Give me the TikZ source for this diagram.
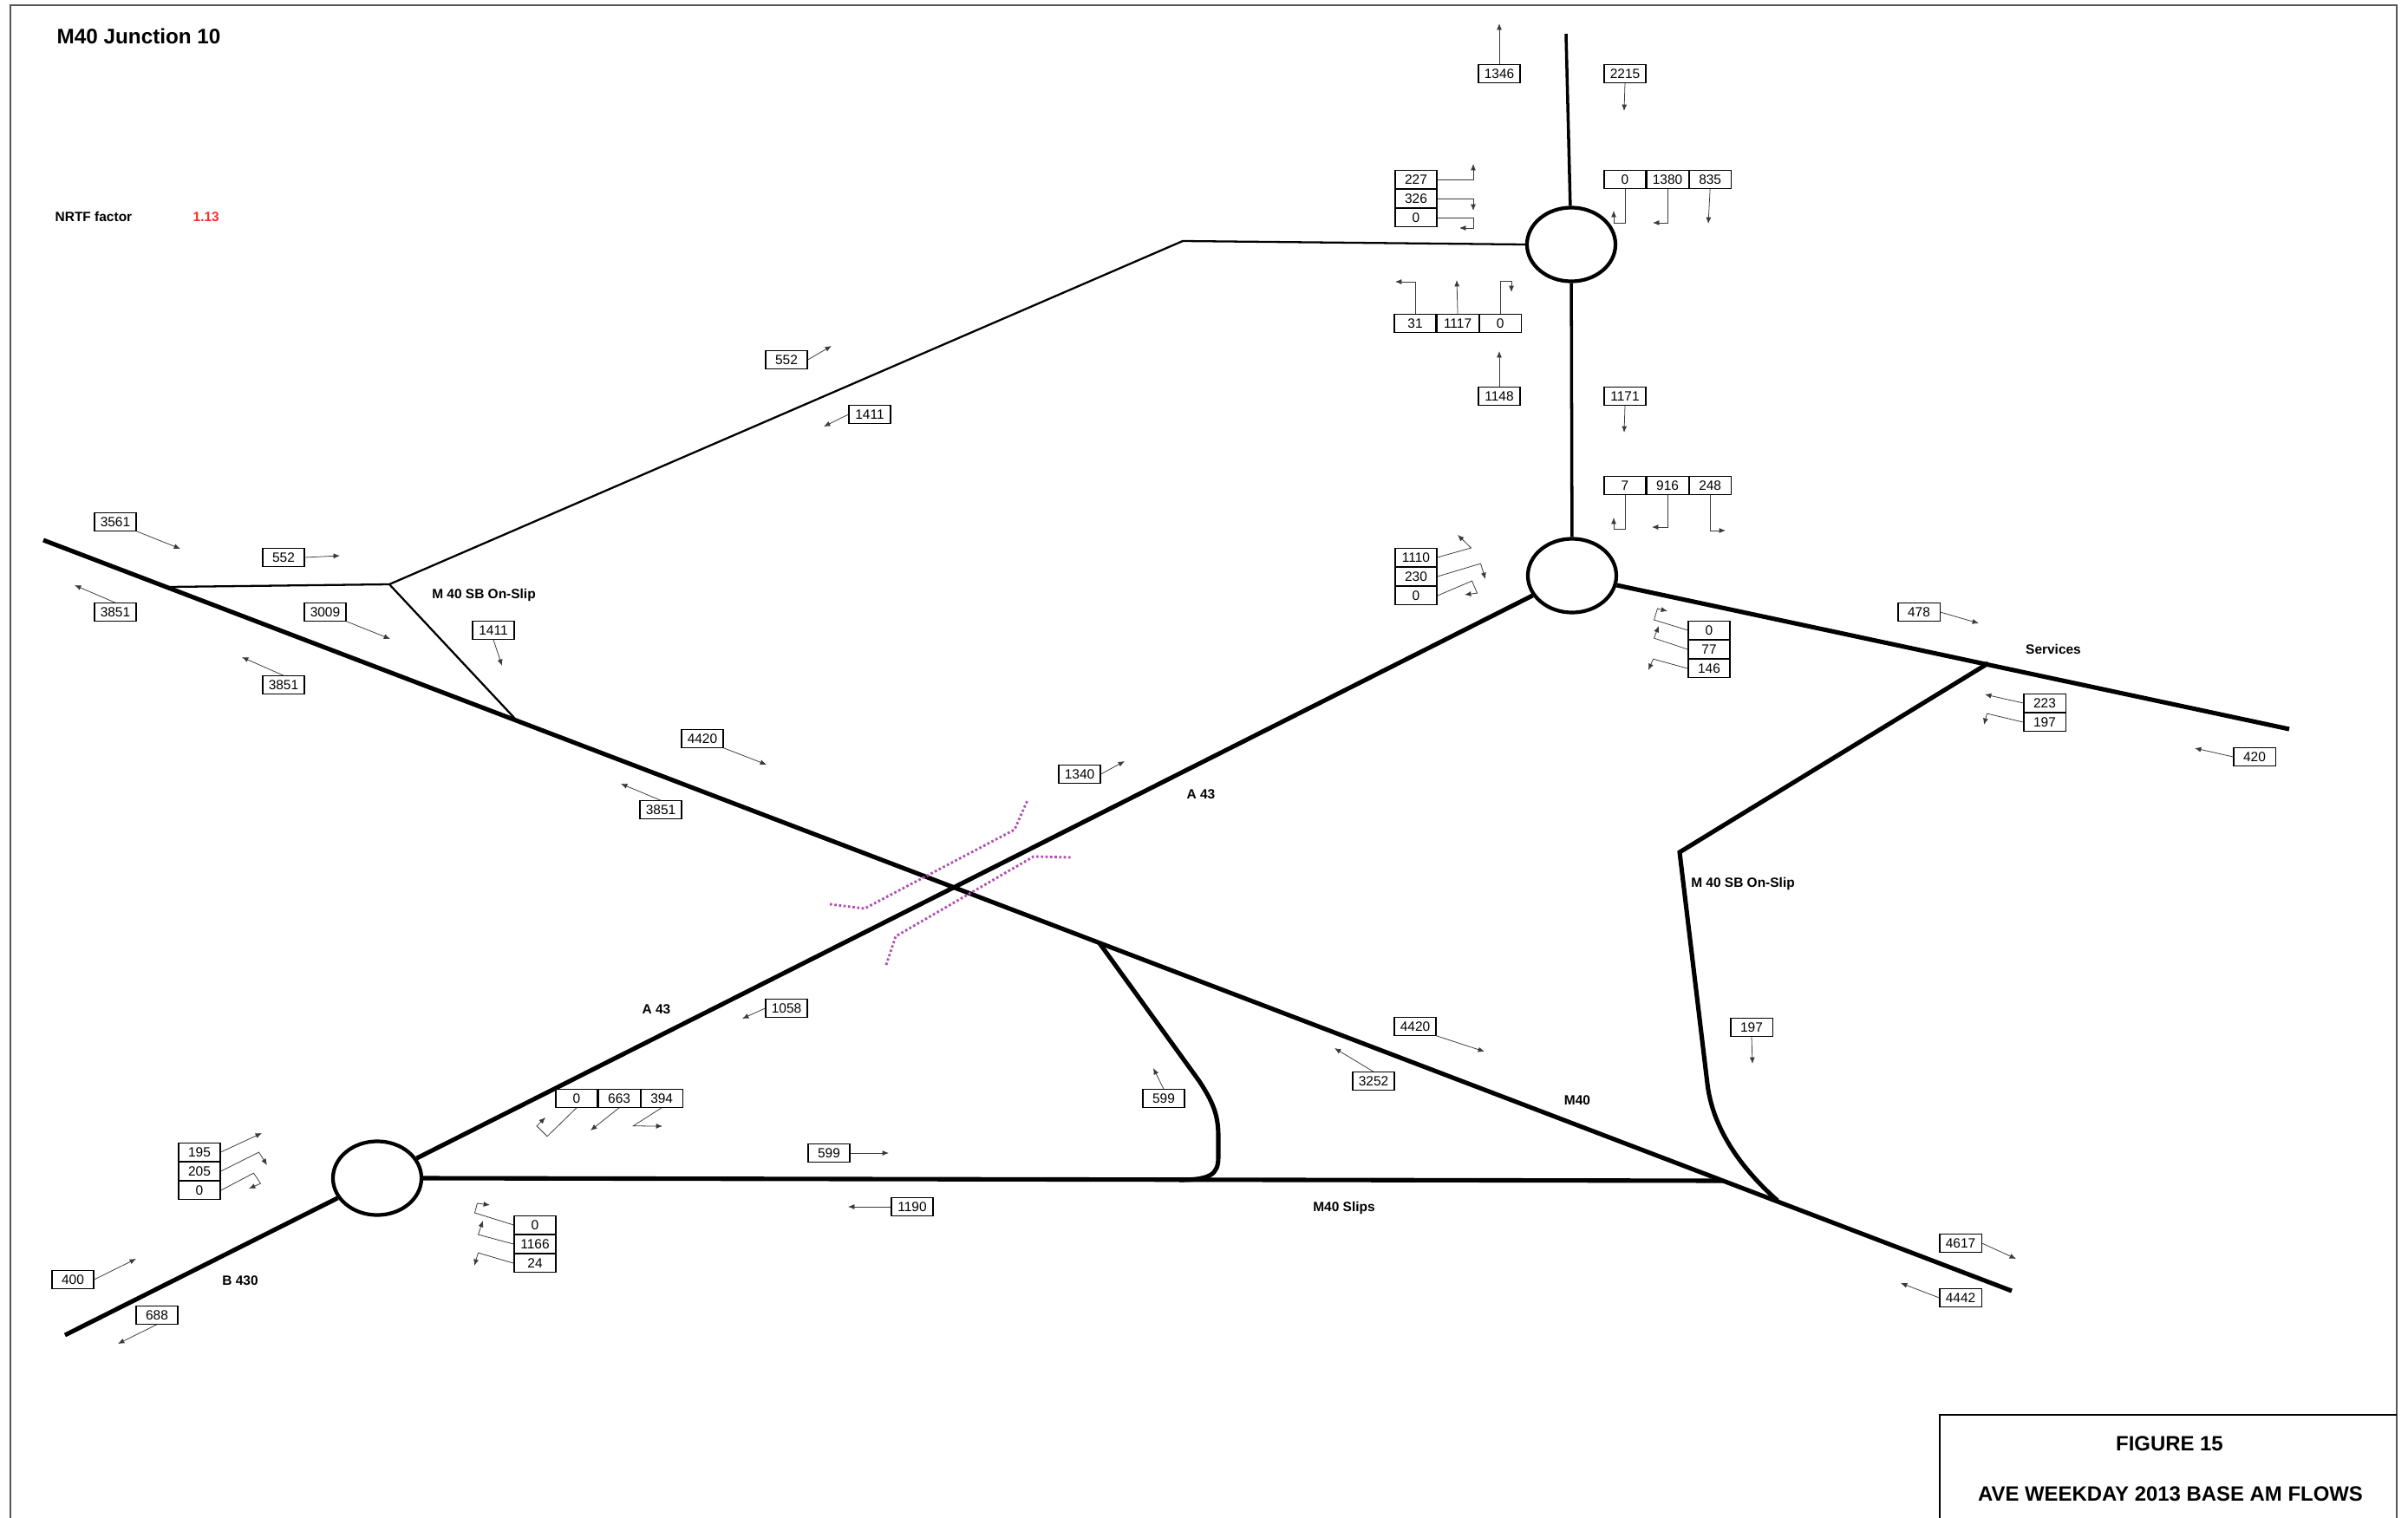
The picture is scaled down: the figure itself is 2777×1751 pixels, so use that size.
\documentclass[tikz,border=0pt]{standalone}
\usepackage{fontspec}
\setmainfont{Liberation Sans}
\usepackage{xcolor}
\usepackage{tikz}
\usetikzlibrary{arrows.meta, positioning, shapes.geometric}
\definecolor{jctcolor0}{HTML}{000000}
\definecolor{jctcolor1}{HTML}{555555}
\definecolor{jctcolor2}{HTML}{3A3A3A}
\definecolor{jctcolor3}{HTML}{B24DB2}
\definecolor{jctcolor4}{HTML}{FF2A2A}
\tikzset{
  frame_line/.style={draw=jctcolor1, line width=0.5pt},
  title_box_line/.style={draw=jctcolor0, line width=0.4pt},
  road_major/.style={draw=jctcolor0, line width=1.45pt},
  road_minor/.style={draw=jctcolor0, line width=1.0pt},
  road_thin/.style={draw=jctcolor0, line width=0.65pt},
  roundabout_node/.style={ellipse, draw=jctcolor0, line width=1.2pt, minimum width=1.02cm, minimum height=0.85cm, inner sep=0pt},
  rail_line/.style={draw=jctcolor3, line width=0.8pt, dash pattern=on 0.75pt off 0.75pt},
  flow_box/.style={draw=jctcolor0, line width=0.3pt, minimum width=0.48cm, minimum height=0.205cm, inner sep=0pt, font=\fontsize{4.4}{5}\selectfont},
  flow_cell/.style={flow_box, minimum height=0.21cm},
  flow_arrow/.style={draw=jctcolor2, line width=0.22pt, -{Latex[length=2.1pt, width=1.7pt]}},
  road_label/.style={inner sep=0pt, font=\fontsize{4.4}{5}\selectfont\bfseries},
  title_text/.style={inner sep=0pt, font=\fontsize{6.9}{8}\selectfont\bfseries},
  caption_text/.style={inner sep=0pt, font=\fontsize{6.8}{8}\selectfont\bfseries}
}
\begin{document}
\begin{tikzpicture}[x=0.01cm, y=-0.01cm]
\useasboundingbox (0,0) rectangle (2777,1751);
\fill[white] (0,0) rectangle (2777,1751);
\draw[frame_line] (12,1751) -- (12,6) -- (2764,6) -- (2764,1751);
\draw[title_box_line] (2237,1751) |- (2764,1632);
\node[title_text, anchor=base west] (title_node) at (65,50) {M40 Junction 10};
\node[road_label, anchor=base west] (nrtf_label) at (63,255) {NRTF factor};
\node[road_label, anchor=base west, text=jctcolor4] (nrtf_value) at (222,255) {1.13};
\node[caption_text] (figure_node) at (2502,1665) {FIGURE 15};
\node[caption_text] (caption_node) at (2503,1723) {AVE WEEKDAY 2013 BASE AM FLOWS};

\node[roundabout_node] (rb_top) at (1812,282) {};
\node[roundabout_node] (rb_mid) at (1813,664) {};
\node[roundabout_node] (rb_low) at (435,1359) {};

\coordinate (m40_west) at (50,623);
\coordinate (m40_east) at (2320,1489);
\coordinate (slip_nw_join) at (194,677);
\coordinate (slip_nw_corner) at (449,674);
\coordinate (slip_nw_merge) at (594,829);
\coordinate (slip_top_bend) at (1364,278);
\coordinate (top_road_end) at (1806,39);
\coordinate (b430_end) at (75,1540);
\coordinate (slips_join) at (1987,1362);
\coordinate (loop_start) at (1268,1088);
\coordinate (loop_end) at (1360,1361);
\coordinate (services_end) at (2640,841);
\coordinate (onslip_fork) at (2293,765);
\coordinate (onslip_corner) at (1937,983);
\coordinate (onslip_merge) at (2050,1385);

\draw[road_major] (m40_west) -- (m40_east);
\draw[road_thin] (slip_nw_join) -- (slip_nw_corner) -- (slip_top_bend) -- (rb_top.west);
\draw[road_thin] (slip_nw_corner) -- (slip_nw_merge);
\draw[road_minor] (top_road_end) -- (rb_top);
\draw[road_minor] (rb_top) -- (rb_mid);
\draw[road_major] (b430_end) -- (rb_low);
\draw[road_major] (rb_low) -- (rb_mid);
\draw[road_major] (rb_low.east) -- (slips_join);
\draw[road_major] (loop_start) -- (1383,1247) .. controls (1398,1270) and (1405,1285) .. (1405,1310) -- (1405,1335) .. controls (1405,1355) and (1395,1361) .. (loop_end);
\draw[road_major] (rb_mid) -- (services_end);
\draw[road_major] (onslip_fork) -- (onslip_corner) -- (1969,1250) .. controls (1975,1300) and (2005,1345) .. (onslip_merge);

\draw[rail_line] (957,1043) -- (997,1048) -- (1170,957) -- (1185,923);
\draw[rail_line] (1022,1113) -- (1033,1080) -- (1192,988) -- (1235,989);

\node[road_label] (lbl_onslip_west) at (558,686) {M 40 SB On-Slip};
\node[road_label] (lbl_a43_upper) at (1385,916) {A 43};
\node[road_label] (lbl_a43_lower) at (757,1164) {A 43};
\node[road_label] (lbl_m40) at (1819,1269) {M40};
\node[road_label] (lbl_m40_slips) at (1550,1393) {M40 Slips};
\node[road_label] (lbl_onslip_east) at (2010,1019) {M 40 SB On-Slip};
\node[road_label] (lbl_services) at (2368,749) {Services};
\node[road_label] (lbl_b430) at (277,1477) {B 430};

\node[flow_box] (f1346) at (1729,85) {1346};
\node[flow_box] (f2215) at (1874,85) {2215};
\node[flow_box] (f1148) at (1729,457) {1148};
\node[flow_box] (f1171) at (1874,457) {1171};
\node[flow_box] (f552t) at (907,415) {552};
\node[flow_box] (f1411t) at (1003,478) {1411};
\node[flow_box] (f3561) at (133,602) {3561};
\node[flow_box] (f552l) at (327,643) {552};
\node[flow_box] (f3851a) at (133,706) {3851};
\node[flow_box] (f3009) at (375,706) {3009};
\node[flow_box] (f3851b) at (327,790) {3851};
\node[flow_box] (f1411l) at (569,727) {1411};
\node[flow_box] (f4420l) at (810,852) {4420};
\node[flow_box] (f1340) at (1245,893) {1340};
\node[flow_box] (f3851c) at (762,934) {3851};
\node[flow_box] (f478) at (2213,706) {478};
\node[flow_box] (f420) at (2600,873) {420};
\node[flow_box] (f1058) at (907,1163) {1058};
\node[flow_box] (f599lo) at (956,1330) {599};
\node[flow_box] (f599lp) at (1342,1267) {599};
\node[flow_box] (f1190) at (1052,1392) {1190};
\node[flow_box] (f4420r) at (1632,1184) {4420};
\node[flow_box] (f3252) at (1584,1247) {3252};
\node[flow_box] (f197r) at (2020,1185) {197};
\node[flow_box] (f4617) at (2261,1434) {4617};
\node[flow_box] (f4442) at (2261,1497) {4442};
\node[flow_box] (f400) at (84,1476) {400};
\node[flow_box] (f688) at (181,1517) {688};

\node[flow_cell] (s227) at (1633,207) {227};
\node[flow_cell, below=0pt of s227] (s326) {326};
\node[flow_cell, below=0pt of s326] (s0a) {0};
\node[flow_cell] (s1110) at (1633,643) {1110};
\node[flow_cell, below=0pt of s1110] (s230) {230};
\node[flow_cell, below=0pt of s230] (s0c) {0};
\node[flow_cell] (s0d) at (1971,727) {0};
\node[flow_cell, below=0pt of s0d] (s77) {77};
\node[flow_cell, below=0pt of s77] (s146) {146};
\node[flow_cell] (s223) at (2358,811) {223};
\node[flow_cell, below=0pt of s223] (s197) {197};
\node[flow_cell] (s195) at (230,1329) {195};
\node[flow_cell, below=0pt of s195] (s205) {205};
\node[flow_cell, below=0pt of s205] (s0g) {0};
\node[flow_cell] (s0f) at (617,1413) {0};
\node[flow_cell, below=0pt of s0f] (s1166) {1166};
\node[flow_cell, below=0pt of s1166] (s24) {24};

\node[flow_box] (t31) at (1632,373) {31};
\node[flow_box, right=0pt of t31] (t1117) {1117};
\node[flow_box, right=0pt of t1117] (t0a) {0};
\node[flow_box] (t0b) at (1874,207) {0};
\node[flow_box, right=0pt of t0b] (t1380) {1380};
\node[flow_box, right=0pt of t1380] (t835) {835};
\node[flow_box] (t7) at (1874,560) {7};
\node[flow_box, right=0pt of t7] (t916) {916};
\node[flow_box, right=0pt of t916] (t248) {248};
\node[flow_box] (t0e) at (665,1267) {0};
\node[flow_box, right=0pt of t0e] (t663) {663};
\node[flow_box, right=0pt of t663] (t394) {394};

\coordinate (f1346_tip) at (1729,27);
\coordinate (f2215_tip) at (1873,128);
\coordinate (f1148_tip) at (1729,405);
\coordinate (f1171_tip) at (1873,499);
\coordinate (f552t_tip) at (959,399);
\coordinate (f1411t_tip) at (950,492);
\coordinate (f3561_tip) at (208,633);
\coordinate (f552l_tip) at (392,641);
\coordinate (f3851a_tip) at (86,675);
\coordinate (f3009_tip) at (450,737);
\coordinate (f3851b_tip) at (279,758);
\coordinate (f1411l_tip) at (579,768);
\coordinate (f4420l_tip) at (884,882);
\coordinate (f1340_tip) at (1297,878);
\coordinate (f3851c_tip) at (716,904);
\coordinate (f478_tip) at (2282,719);
\coordinate (f420_tip) at (2531,863);
\coordinate (f1058_tip) at (856,1175);
\coordinate (f599lo_tip) at (1025,1330);
\coordinate (f599lp_tip) at (1330,1232);
\coordinate (f1190_tip) at (978,1392);
\coordinate (f4420r_tip) at (1712,1213);
\coordinate (f3252_tip) at (1539,1209);
\coordinate (f197r_tip) at (2021,1227);
\coordinate (f4617_tip) at (2325,1452);
\coordinate (f4442_tip) at (2192,1480);
\coordinate (f400_tip) at (157,1452);
\coordinate (f688_tip) at (136,1550);
\coordinate (s227_tip) at (1699,189);
\coordinate (s326_tip) at (1699,243);
\coordinate (s0a_tip) at (1683,263);
\coordinate (s1110_tip) at (1681,617);
\coordinate (s230_tip) at (1713,668);
\coordinate (s0c_tip) at (1689,686);
\coordinate (s0d_tip) at (1923,705);
\coordinate (s77_tip) at (1913,722);
\coordinate (s146_tip) at (1901,773);
\coordinate (s223_tip) at (2289,801);
\coordinate (s197_tip) at (2288,836);
\coordinate (s195_tip) at (302,1307);
\coordinate (s205_tip) at (308,1344);
\coordinate (s0g_tip) at (287,1371);
\coordinate (s0f_tip) at (565,1390);
\coordinate (s1166_tip) at (557,1408);
\coordinate (s24_tip) at (547,1460);
\coordinate (t31_tip) at (1609,325);
\coordinate (t1117_tip) at (1680,323);
\coordinate (t0a_tip) at (1743,337);
\coordinate (t0b_tip) at (1861,243);
\coordinate (t1380_tip) at (1906,257);
\coordinate (t835_tip) at (1970,258);
\coordinate (t7_tip) at (1861,597);
\coordinate (t916_tip) at (1905,608);
\coordinate (t248_tip) at (1990,612);
\coordinate (t0e_tip) at (629,1289);
\coordinate (t663_tip) at (681,1304);
\coordinate (t394_tip) at (764,1299);

\draw[flow_arrow] (f1346.north) -- (f1346_tip);
\draw[flow_arrow] (f2215.south) -- (f2215_tip);
\draw[flow_arrow] (f1148.north) -- (f1148_tip);
\draw[flow_arrow] (f1171.south) -- (f1171_tip);
\draw[flow_arrow] (f552t.east) -- (f552t_tip);
\draw[flow_arrow] (f1411t.west) -- (f1411t_tip);
\draw[flow_arrow] (f3561.south east) -- (f3561_tip);
\draw[flow_arrow] (f552l.east) -- (f552l_tip);
\draw[flow_arrow] (f3851a.north) -- (f3851a_tip);
\draw[flow_arrow] (f3009.south east) -- (f3009_tip);
\draw[flow_arrow] (f3851b.north) -- (f3851b_tip);
\draw[flow_arrow] (f1411l.south) -- (f1411l_tip);
\draw[flow_arrow] (f4420l.south east) -- (f4420l_tip);
\draw[flow_arrow] (f1340.east) -- (f1340_tip);
\draw[flow_arrow] (f3851c.north) -- (f3851c_tip);
\draw[flow_arrow] (f478.east) -- (f478_tip);
\draw[flow_arrow] (f420.west) -- (f420_tip);
\draw[flow_arrow] (f1058.west) -- (f1058_tip);
\draw[flow_arrow] (f599lo.east) -- (f599lo_tip);
\draw[flow_arrow] (f599lp.north) -- (f599lp_tip);
\draw[flow_arrow] (f1190.west) -- (f1190_tip);
\draw[flow_arrow] (f4420r.south east) -- (f4420r_tip);
\draw[flow_arrow] (f3252.north) -- (f3252_tip);
\draw[flow_arrow] (f197r.south) -- (f197r_tip);
\draw[flow_arrow] (f4617.east) -- (f4617_tip);
\draw[flow_arrow] (f4442.west) -- (f4442_tip);
\draw[flow_arrow] (f400.east) -- (f400_tip);
\draw[flow_arrow] (f688.south) -- (f688_tip);

\draw[flow_arrow] (s227.east) -| (s227_tip);
\draw[flow_arrow] (s326.east) -| (s326_tip);
\draw[flow_arrow] (s0a.east) -- ++(42,0) |- (s0a_tip);
\draw[flow_arrow] (s1110.east) -- ++(39,-11) -- (s1110_tip);
\draw[flow_arrow] (s230.east) -- ++(50,-15) -- (s230_tip);
\draw[flow_arrow] (s0c.east) -- ++(40,-17) -- ++(6,14) -- (s0c_tip);
\draw[flow_arrow] (s0d.west) -- ++(-39,-12) -- ++(4,-13) -- (s0d_tip);
\draw[flow_arrow] (s77.west) -- ++(-39,-13) -- (s77_tip);
\draw[flow_arrow] (s146.west) -- ++(-40,-11) -- (s146_tip);
\draw[flow_arrow] (s223.west) -- (s223_tip);
\draw[flow_arrow] (s197.west) -- ++(-42,-10) -- (s197_tip);
\draw[flow_arrow] (s195.east) -- (s195_tip);
\draw[flow_arrow] (s205.east) -- ++(44,-22) -- (s205_tip);
\draw[flow_arrow] (s0g.east) -- ++(38,-20) -- ++(8,12) -- (s0g_tip);
\draw[flow_arrow] (s0f.west) -- ++(-45,-14) -- ++(3,-11) -- (s0f_tip);
\draw[flow_arrow] (s1166.west) -- ++(-41,-11) -- (s1166_tip);
\draw[flow_arrow] (s24.west) -- ++(-41,-12) -- (s24_tip);

\draw[flow_arrow] (t31.north) |- (t31_tip);
\draw[flow_arrow] (t1117.north) -- (t1117_tip);
\draw[flow_arrow] (t0a.north) -- ++(0,-38) -| (t0a_tip);
\draw[flow_arrow] (t0b.south) -- ++(0,40) -| (t0b_tip);
\draw[flow_arrow] (t1380.south) |- (t1380_tip);
\draw[flow_arrow] (t835.south) -- (t835_tip);
\draw[flow_arrow] (t7.south) -- ++(0,40) -| (t7_tip);
\draw[flow_arrow] (t916.south) |- (t916_tip);
\draw[flow_arrow] (t248.south) |- (t248_tip);
\draw[flow_arrow] (t0e.south) -- ++(-34,33) -- ++(-12,-12) -- (t0e_tip);
\draw[flow_arrow] (t663.south) -- (t663_tip);
\draw[flow_arrow] (t394.south) -- ++(-33,21) -- (t394_tip);
\end{tikzpicture}
\end{document}
